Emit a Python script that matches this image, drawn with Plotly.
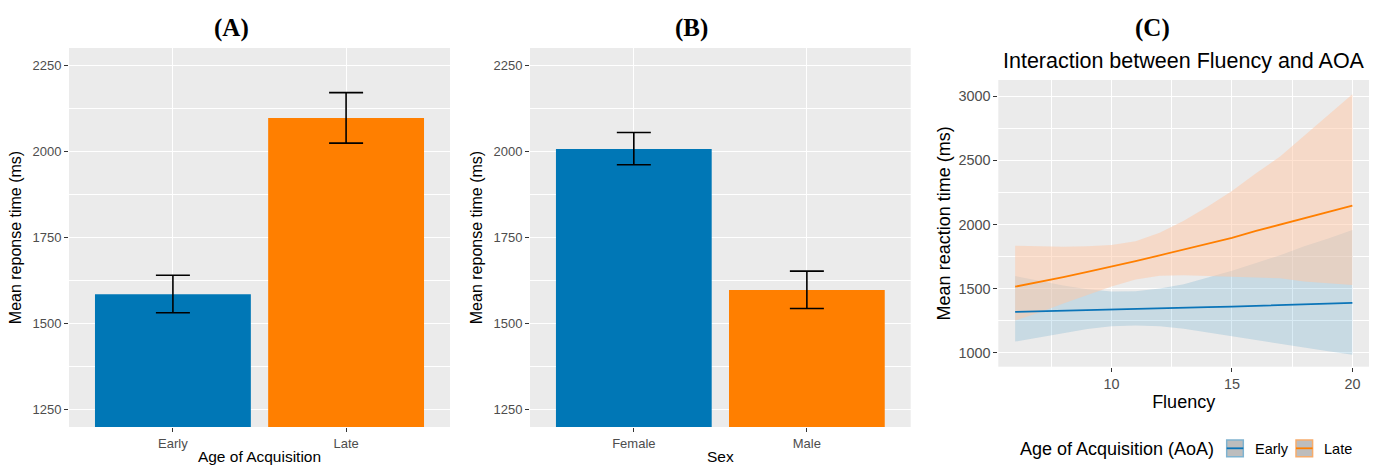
import plotly.graph_objects as go

# ---------------- data ----------------
aoa_cats = ["Early", "Late"]
aoa_means = [1585, 2098]
aoa_err_up = [55, 74]
aoa_err_down = [54, 73]

sex_cats = ["Female", "Male"]
sex_means = [2008, 1597]
sex_err_up = [48, 55]
sex_err_down = [46, 54]

fluency = [6, 7, 8, 9, 10, 11, 12, 13, 14, 15, 16, 17, 18, 19, 20]
late_fit = [1515, 1550, 1590, 1630, 1671, 1714, 1760, 1805, 1850, 1895, 1950, 2000, 2045, 2095, 2147]
late_upper = [1834, 1830, 1827, 1830, 1840, 1870, 1935, 2030, 2140, 2262, 2400, 2530, 2690, 2850, 3015]
late_lower = [1251, 1313, 1384, 1452, 1517, 1571, 1601, 1605, 1599, 1588, 1584, 1581, 1555, 1540, 1529]
early_fit = [1318, 1322, 1327, 1331, 1335, 1340, 1345, 1350, 1355, 1360, 1366, 1371, 1377, 1382, 1388]
early_upper = [1598, 1560, 1525, 1495, 1478, 1480, 1500, 1535, 1585, 1640, 1700, 1760, 1830, 1890, 1957]
early_lower = [1087, 1120, 1155, 1185, 1206, 1213, 1206, 1187, 1158, 1128, 1098, 1068, 1036, 1011, 984]

BLUE = "#0077B6"
ORANGE = "#FF7F00"
TICK_COL = "#4D4D4D"
FONT = "Liberation Sans, Arial, sans-serif"

W, H = 1384, 466

def px_x(p):
    return p / W

def px_y(p):
    return 1 - p / H

fig = go.Figure()

# ---------------- panel A ----------------
fig.add_trace(go.Bar(
    x=aoa_cats, y=aoa_means, width=0.9,
    marker=dict(color=[BLUE, ORANGE], line=dict(width=0)),
    error_y=dict(type="data", array=aoa_err_up, arrayminus=aoa_err_down,
                 color="black", thickness=1.6, width=17),
    xaxis="x", yaxis="y", showlegend=False))

# ---------------- panel B ----------------
fig.add_trace(go.Bar(
    x=sex_cats, y=sex_means, width=0.9,
    marker=dict(color=[BLUE, ORANGE], line=dict(width=0)),
    error_y=dict(type="data", array=sex_err_up, arrayminus=sex_err_down,
                 color="black", thickness=1.6, width=17),
    xaxis="x2", yaxis="y2", showlegend=False))

# ---------------- panel C ----------------
def band(upper, lower, fillcolor):
    fig.add_trace(go.Scatter(x=fluency, y=upper, mode="lines", line=dict(width=0),
                             xaxis="x3", yaxis="y3", showlegend=False, hoverinfo="skip"))
    fig.add_trace(go.Scatter(x=fluency, y=lower, mode="lines", line=dict(width=0),
                             fill="tonexty", fillcolor=fillcolor,
                             xaxis="x3", yaxis="y3", showlegend=False, hoverinfo="skip"))

band(early_upper, early_lower, "rgba(0,119,182,0.15)")
band(late_upper, late_lower, "rgba(255,200,165,0.5)")

fig.add_trace(go.Scatter(x=fluency, y=early_fit, mode="lines", line=dict(color="#0A74B8", width=1.8),
                         xaxis="x3", yaxis="y3", showlegend=False))
fig.add_trace(go.Scatter(x=fluency, y=late_fit, mode="lines", line=dict(color=ORANGE, width=1.8),
                         xaxis="x3", yaxis="y3", showlegend=False))

# ---------------- axes ----------------
grid_major = dict(showgrid=True, gridcolor="white", gridwidth=1.3, zeroline=False, automargin=False,
                  ticks="outside", ticklen=4, tickwidth=1, tickcolor="#333333", showline=False)

yAB_common = dict(range=[1198, 2302], tickmode="linear", tick0=1250, dtick=250,
                  minor=dict(dtick=125, showgrid=True, gridcolor="white", gridwidth=0.6),
                  tickfont=dict(family=FONT, size=13, color=TICK_COL),
                  title=dict(text="Mean reponse time (ms)", font=dict(family=FONT, size=16, color="black"),
                             standoff=6),
                  **grid_major)

xAB_common = dict(type="category", range=[-0.6, 1.6],
                  tickfont=dict(family=FONT, size=13, color=TICK_COL), **grid_major)

yd_ab = [px_y(427), px_y(48)]

fig.update_layout(
    xaxis=dict(domain=[px_x(69), px_x(450)], anchor="y",
               title=dict(text="Age of Acquisition", font=dict(family=FONT, size=15.5, color="black"), standoff=1),
               **xAB_common),
    yaxis=dict(domain=yd_ab, anchor="x", **yAB_common),
    xaxis2=dict(domain=[px_x(530), px_x(910.7)], anchor="y2",
                title=dict(text="Sex", font=dict(family=FONT, size=15.5, color="black"), standoff=1),
                **xAB_common),
    yaxis2=dict(domain=yd_ab, anchor="x2", **yAB_common),
    xaxis3=dict(domain=[px_x(998.3), px_x(1369)], anchor="y3", range=[5.3, 20.69],
                tickmode="linear", tick0=0, dtick=5,
                minor=dict(dtick=2.5, showgrid=True, gridcolor="white", gridwidth=0.6),
                tickfont=dict(family=FONT, size=14.4, color=TICK_COL),
                title=dict(text="Fluency", font=dict(family=FONT, size=18, color="black"), standoff=4),
                **grid_major),
    yaxis3=dict(domain=[px_y(366.7), px_y(80)], anchor="x3", range=[891, 3127],
                tickmode="linear", tick0=0, dtick=500,
                minor=dict(dtick=250, showgrid=True, gridcolor="white", gridwidth=0.6),
                tickfont=dict(family=FONT, size=14.4, color=TICK_COL),
                title=dict(text="Mean reaction time (ms)", font=dict(family=FONT, size=18, color="black"), standoff=3),
                **grid_major),
    width=W, height=H,
    margin=dict(l=0, r=0, t=0, b=0),
    paper_bgcolor="white",
    plot_bgcolor="#EBEBEB",
    showlegend=False,
    bargap=0.1,
)

# ---------------- panel titles ----------------
SERIF = "Liberation Serif, Times New Roman, serif"
for label, cx in [("<b>(A)</b>", 231), ("<b>(B)</b>", 691), ("<b>(C)</b>", 1152)]:
    fig.add_annotation(text=label, x=px_x(cx), y=px_y(28), xref="paper", yref="paper",
                       showarrow=False, xanchor="center", yanchor="middle",
                       font=dict(family=SERIF, size=25, color="black"))

fig.add_annotation(text="Interaction between Fluency and AOA", x=px_x(1184), y=px_y(61.5),
                   xref="paper", yref="paper", showarrow=False, xanchor="center", yanchor="middle",
                   font=dict(family=FONT, size=21.5, color="black"))

# ---------------- legend (panel C) ----------------
fig.add_annotation(text="Age of Acquisition (AoA)", x=px_x(1018), y=px_y(449),
                   xref="paper", yref="paper", showarrow=False, xanchor="left", yanchor="middle",
                   font=dict(family=FONT, size=18, color="black"))
legend_items = [("Early", "#0A74B8", "#7FB3D0", 1226.7, 1253),
                ("Late", ORANGE, "#F6AC6C", 1296, 1322)]
for name, lc, bc, bx, tx in legend_items:
    fig.add_shape(type="rect", xref="paper", yref="paper",
                  x0=px_x(bx), x1=px_x(bx + 16.6), y0=px_y(456.7), y1=px_y(440),
                  fillcolor="#BDBDBD", line=dict(color=bc, width=1.5))
    fig.add_shape(type="line", xref="paper", yref="paper",
                  x0=px_x(bx), x1=px_x(bx + 16.6), y0=px_y(448.3), y1=px_y(448.3),
                  line=dict(color=lc, width=1.8))
    fig.add_annotation(text=name, x=px_x(tx), y=px_y(449), xref="paper", yref="paper",
                       showarrow=False, xanchor="left", yanchor="middle",
                       font=dict(family=FONT, size=14.5, color="black"))

fig.write_html("out.html", config={"displayModeBar": False},
               post_script="document.body.style.margin='0px';document.body.style.overflow='hidden';")
